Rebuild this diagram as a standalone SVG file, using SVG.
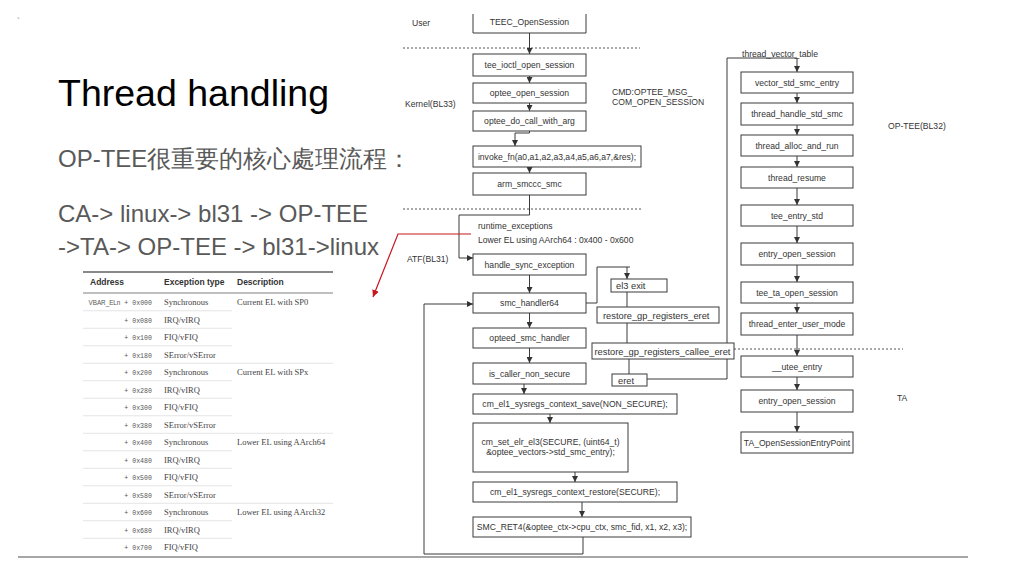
<svg xmlns="http://www.w3.org/2000/svg" width="1024" height="576" viewBox="0 0 1024 576">
<style>
.bx{fill:#fff;stroke:#3a3a3a;stroke-width:1}
.t{font-family:"Liberation Sans",Arial,sans-serif;font-size:8.6px;fill:#333}
.tm{text-anchor:middle}
.t2{font-family:"Liberation Sans",Arial,sans-serif;font-size:9.3px;fill:#333}
.lb{font-family:"Liberation Sans",Arial,sans-serif;font-size:8.6px;fill:#333}
.c{fill:none;stroke:#3a3a3a;stroke-width:1}
.dash{fill:none;stroke:#555;stroke-width:1;stroke-dasharray:2 2}
.big{font-family:"Liberation Sans",Arial,sans-serif;fill:#595959}
.th{font-family:"Liberation Sans",Arial,sans-serif;font-size:8.5px;font-weight:bold;fill:#333}
.ad{font-family:"Liberation Mono","DejaVu Sans Mono",monospace;font-size:6.6px;fill:#555;text-anchor:end}
.ty{font-family:"Liberation Serif","Times New Roman",serif;font-size:8.5px;fill:#444}
.sep{stroke:#ddd;stroke-width:0.8}
</style>
<defs>
<marker id="ah" viewBox="0 0 6 6" refX="6" refY="3" markerWidth="6" markerHeight="6" markerUnits="userSpaceOnUse" orient="auto"><path d="M0,0 L6,3 L0,6 z" fill="#333"/></marker>
<marker id="ahr" viewBox="0 0 6 6" refX="6" refY="3" markerWidth="7" markerHeight="7" markerUnits="userSpaceOnUse" orient="auto"><path d="M0,0 L6,3 L0,6 z" fill="#c8161d"/></marker>
</defs>
<rect width="1024" height="576" fill="#fff"/>

<g id="slide-text">
<text x="17" y="24" font-family="Liberation Sans,sans-serif" font-size="9" fill="#777">`</text>
<text x="58" y="106" font-family="Liberation Sans,Arial,sans-serif" font-size="37.5" fill="#000">Thread handling</text>
<text class="big" x="58" y="167" font-size="24" font-family="'Liberation Sans','Noto Sans CJK TC',sans-serif">OP-TEE很重要的核心處理流程：</text>
<text class="big" x="58" y="222" font-size="24">CA-&gt; linux-&gt; bl31 -&gt; OP-TEE</text>
<text class="big" x="58" y="255" font-size="24">-&gt;TA-&gt; OP-TEE -&gt; bl31-&gt;linux</text>
</g>

<g id="vector-table">
<line x1="83" y1="272" x2="333" y2="272" stroke="#888" stroke-width="2"/>
<text class="th" x="90" y="285">Address</text>
<text class="th" x="164" y="285">Exception type</text>
<text class="th" x="237" y="285">Description</text>
<line x1="83" y1="293" x2="333" y2="293" stroke="#aaa" stroke-width="1.5"/>
<line class="sep" x1="83" y1="310.75" x2="232" y2="310.75"/>
<line class="sep" x1="83" y1="328.25" x2="232" y2="328.25"/>
<line class="sep" x1="83" y1="345.75" x2="232" y2="345.75"/>
<line class="sep" x1="83" y1="363.25" x2="333" y2="363.25"/>
<line class="sep" x1="83" y1="380.75" x2="232" y2="380.75"/>
<line class="sep" x1="83" y1="398.25" x2="232" y2="398.25"/>
<line class="sep" x1="83" y1="415.75" x2="232" y2="415.75"/>
<line class="sep" x1="83" y1="433.25" x2="333" y2="433.25"/>
<line class="sep" x1="83" y1="450.75" x2="232" y2="450.75"/>
<line class="sep" x1="83" y1="468.25" x2="232" y2="468.25"/>
<line class="sep" x1="83" y1="485.75" x2="232" y2="485.75"/>
<line class="sep" x1="83" y1="503.25" x2="333" y2="503.25"/>
<line class="sep" x1="83" y1="520.75" x2="232" y2="520.75"/>
<line class="sep" x1="83" y1="538.25" x2="232" y2="538.25"/>
<text class="ad" x="152" y="305"><tspan font-family="Liberation Sans,sans-serif" font-size="6.3">VBAR_ELn</tspan> + 0x000</text>
<text class="ad" x="152" y="322.5">+ 0x080</text>
<text class="ad" x="152" y="340">+ 0x100</text>
<text class="ad" x="152" y="357.5">+ 0x180</text>
<text class="ad" x="152" y="375">+ 0x200</text>
<text class="ad" x="152" y="392.5">+ 0x280</text>
<text class="ad" x="152" y="410">+ 0x300</text>
<text class="ad" x="152" y="427.5">+ 0x380</text>
<text class="ad" x="152" y="445">+ 0x400</text>
<text class="ad" x="152" y="462.5">+ 0x480</text>
<text class="ad" x="152" y="480">+ 0x500</text>
<text class="ad" x="152" y="497.5">+ 0x580</text>
<text class="ad" x="152" y="515">+ 0x600</text>
<text class="ad" x="152" y="532.5">+ 0x680</text>
<text class="ad" x="152" y="550">+ 0x700</text>
<text class="ty" x="164" y="305">Synchronous</text>
<text class="ty" x="164" y="322.5">IRQ/vIRQ</text>
<text class="ty" x="164" y="340">FIQ/vFIQ</text>
<text class="ty" x="164" y="357.5">SError/vSError</text>
<text class="ty" x="164" y="375">Synchronous</text>
<text class="ty" x="164" y="392.5">IRQ/vIRQ</text>
<text class="ty" x="164" y="410">FIQ/vFIQ</text>
<text class="ty" x="164" y="427.5">SError/vSError</text>
<text class="ty" x="164" y="445">Synchronous</text>
<text class="ty" x="164" y="462.5">IRQ/vIRQ</text>
<text class="ty" x="164" y="480">FIQ/vFIQ</text>
<text class="ty" x="164" y="497.5">SError/vSError</text>
<text class="ty" x="164" y="515">Synchronous</text>
<text class="ty" x="164" y="532.5">IRQ/vIRQ</text>
<text class="ty" x="164" y="550">FIQ/vFIQ</text>
<text class="ty" x="237" y="305">Current EL with SP0</text>
<text class="ty" x="237" y="375">Current EL with SPx</text>
<text class="ty" x="237" y="445">Lower EL using AArch64</text>
<text class="ty" x="237" y="515">Lower EL using AArch32</text>
</g>

<line x1="18" y1="557" x2="968" y2="557" stroke="#888" stroke-width="1.3"/>

<g id="labels">
<text class="lb" x="412" y="26">User</text>
<text class="lb" x="405" y="107">Kernel(BL33)</text>
<text class="lb" x="612" y="95">CMD:OPTEE_MSG_</text>
<text class="lb" x="612" y="105">COM_OPEN_SESSION</text>
<text class="lb" x="478" y="229">runtime_exceptions</text>
<text class="lb" x="478" y="243">Lower EL using AArch64 : 0x400 - 0x600</text>
<text class="lb" x="407" y="262">ATF(BL31)</text>
<text class="lb" x="742" y="57">thread_vector_table</text>
<text class="lb" x="888" y="129">OP-TEE(BL32)</text>
<text class="lb" x="897" y="401">TA</text>
</g>

<g id="boundaries">
<line class="dash" x1="403" y1="48" x2="640" y2="48"/>
<line class="dash" x1="403" y1="209" x2="642" y2="209"/>
<line class="dash" x1="734" y1="349" x2="903" y2="349"/>
</g>

<g id="connectors">
<path class="c" d="M529.5,33 V54" marker-end="url(#ah)"/>
<path class="c" d="M529.5,76 V83" marker-end="url(#ah)"/>
<path class="c" d="M529.5,103 V111" marker-end="url(#ah)"/>
<path class="c" d="M529.5,131 V133 H515 V146" marker-end="url(#ah)"/>
<path class="c" d="M529.5,167 V173" marker-end="url(#ah)"/>
<path class="c" d="M529.5,195 V215 H459 V258 H473" marker-end="url(#ah)"/>
<path class="c" d="M529.5,275 V293" marker-end="url(#ah)"/>
<path class="c" d="M529.5,313 V328" marker-end="url(#ah)"/>
<path class="c" d="M529.5,348 V363" marker-end="url(#ah)"/>
<path class="c" d="M524,384 V394" marker-end="url(#ah)"/>
<path class="c" d="M550,414 V423" marker-end="url(#ah)"/>
<path class="c" d="M575,472 V482" marker-end="url(#ah)"/>
<path class="c" d="M582,502 V517" marker-end="url(#ah)"/>
<path class="c" d="M583,537 V554 H424 V304 H473" marker-end="url(#ah)"/>
<path class="c" d="M586,303 H597 V267 H630"/>
<path class="c" d="M627,267 V279" marker-end="url(#ah)"/>
<path class="c" d="M627,292 V307"/>
<path class="c" d="M627,323 V343"/>
<path class="c" d="M629,359 V374"/>
<path class="c" d="M647,379 H727 V58 H797 V72" marker-end="url(#ah)"/>
<path class="c" d="M797,93 V103" marker-end="url(#ah)"/>
<path class="c" d="M797,125 V135" marker-end="url(#ah)"/>
<path class="c" d="M797,156 V167" marker-end="url(#ah)"/>
<path class="c" d="M797,188 V205" marker-end="url(#ah)"/>
<path class="c" d="M797,226 V243" marker-end="url(#ah)"/>
<path class="c" d="M797,265 V282" marker-end="url(#ah)"/>
<path class="c" d="M797,303 V313" marker-end="url(#ah)"/>
<path class="c" d="M797,335 V356" marker-end="url(#ah)"/>
<path class="c" d="M797,377 V390" marker-end="url(#ah)"/>
<path class="c" d="M797,412 V432" marker-end="url(#ah)"/>
<path d="M471,234 H398 L373,297" fill="none" stroke="#c8161d" stroke-width="1.2" marker-end="url(#ahr)"/>
</g>

<g id="n-teec"><path class="bx" d="M473,14 V33 H586 V14"/><text class="t tm" x="529.5" y="25">TEEC_OpenSession</text></g>
<g id="n-tee-ioctl"><rect class="bx" x="473" y="54" width="113" height="22"/><text class="t tm" x="529.5" y="68">tee_ioctl_open_session</text></g>
<g id="n-optee-open"><rect class="bx" x="473" y="83" width="113" height="20"/><text class="t tm" x="529.5" y="96">optee_open_session</text></g>
<g id="n-optee-do-call"><rect class="bx" x="473" y="111" width="113" height="20"/><text class="t tm" x="529.5" y="124">optee_do_call_with_arg</text></g>
<g id="n-invoke"><rect class="bx" x="473" y="146" width="168" height="21"/><text class="t tm" x="557" y="159.5">invoke_fn(a0,a1,a2,a3,a4,a5,a6,a7,&amp;res);</text></g>
<g id="n-arm-smccc"><rect class="bx" x="473" y="173" width="113" height="22"/><text class="t tm" x="529.5" y="187">arm_smccc_smc</text></g>
<g id="n-handle-sync"><rect class="bx" x="473" y="254" width="113" height="21"/><text class="t tm" x="529.5" y="267.5">handle_sync_exception</text></g>
<g id="n-smc-handler64"><rect class="bx" x="473" y="293" width="113" height="20"/><text class="t tm" x="529.5" y="306">smc_handler64</text></g>
<g id="n-opteed"><rect class="bx" x="473" y="328" width="113" height="20"/><text class="t tm" x="529.5" y="341">opteed_smc_handler</text></g>
<g id="n-is-caller"><rect class="bx" x="473" y="363" width="113" height="21"/><text class="t tm" x="529.5" y="376.5">is_caller_non_secure</text></g>
<g id="n-ctx-save"><rect class="bx" x="473" y="394" width="204" height="20"/><text class="t tm" x="575" y="407">cm_el1_sysregs_context_save(NON_SECURE);</text></g>
<g id="n-set-elr"><rect class="bx" x="473" y="423" width="155" height="49"/><text class="t tm" x="550.5" y="445">cm_set_elr_el3(SECURE, (uint64_t)</text><text class="t tm" x="550.5" y="455">&amp;optee_vectors-&gt;std_smc_entry);</text></g>
<g id="n-ctx-restore"><rect class="bx" x="473" y="482" width="204" height="20"/><text class="t tm" x="575" y="495">cm_el1_sysregs_context_restore(SECURE);</text></g>
<g id="n-smc-ret4"><rect class="bx" x="473" y="517" width="218" height="20"/><text class="t tm" x="582" y="530">SMC_RET4(&amp;optee_ctx-&gt;cpu_ctx, smc_fid, x1, x2, x3);</text></g>

<g id="n-el3-exit"><rect class="bx" x="611" y="279" width="56" height="13"/><text class="t2" x="616" y="289">el3 exit</text></g>
<g id="n-restore-eret"><rect class="bx" x="597" y="307" width="122" height="16"/><text class="t2" x="603" y="318.5">restore_gp_registers_eret</text></g>
<g id="n-restore-callee"><rect class="bx" x="592" y="343" width="142" height="16"/><text class="t2" x="594.5" y="354.5">restore_gp_registers_callee_eret</text></g>
<g id="n-eret"><rect class="bx" x="612" y="374" width="35" height="12"/><text class="t2" x="618" y="383.5">eret</text></g>

<g id="n-vector-std"><rect class="bx" x="741" y="72" width="112" height="21"/><text class="t tm" x="797" y="85.5">vector_std_smc_entry</text></g>
<g id="n-thread-handle"><rect class="bx" x="741" y="103" width="112" height="22"/><text class="t tm" x="797" y="117">thread_handle_std_smc</text></g>
<g id="n-thread-alloc"><rect class="bx" x="741" y="135" width="112" height="21"/><text class="t tm" x="797" y="148.5">thread_alloc_and_run</text></g>
<g id="n-thread-resume"><rect class="bx" x="741" y="167" width="112" height="21"/><text class="t tm" x="797" y="180.5">thread_resume</text></g>
<g id="n-tee-entry-std"><rect class="bx" x="741" y="205" width="112" height="21"/><text class="t tm" x="797" y="218.5">tee_entry_std</text></g>
<g id="n-entry-open1"><rect class="bx" x="741" y="243" width="112" height="22"/><text class="t tm" x="797" y="257">entry_open_session</text></g>
<g id="n-tee-ta-open"><rect class="bx" x="741" y="282" width="112" height="21"/><text class="t tm" x="797" y="295.5">tee_ta_open_session</text></g>
<g id="n-enter-user"><rect class="bx" x="741" y="313" width="112" height="22"/><text class="t tm" x="797" y="327">thread_enter_user_mode</text></g>
<g id="n-utee-entry"><rect class="bx" x="741" y="356" width="112" height="21"/><text class="t tm" x="797" y="369.5">__utee_entry</text></g>
<g id="n-entry-open2"><rect class="bx" x="741" y="390" width="112" height="22"/><text class="t tm" x="797" y="404">entry_open_session</text></g>
<g id="n-ta-entry"><rect class="bx" x="741" y="432" width="112" height="21"/><text class="t tm" x="797" y="445.5">TA_OpenSessionEntryPoint</text></g>
</svg>
